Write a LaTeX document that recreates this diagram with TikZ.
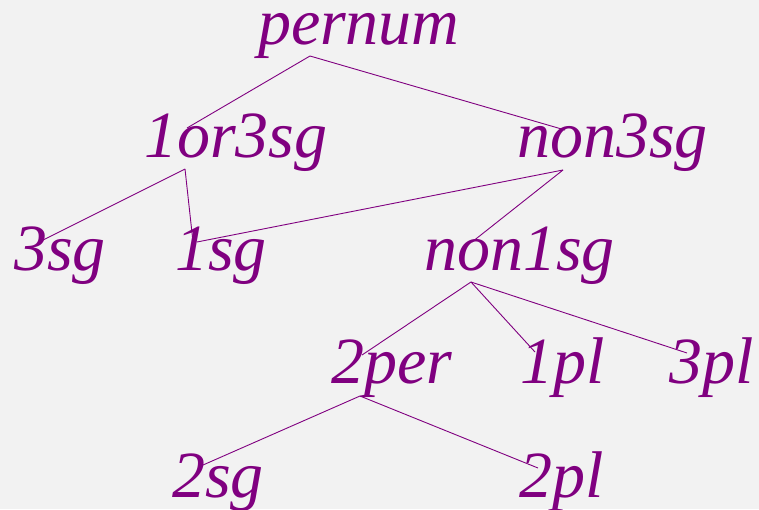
\documentclass[tikz,border=0pt]{standalone}
\usepackage{fontspec}
\setmainfont{Liberation Serif}
\definecolor{pur}{HTML}{800080}
\definecolor{bgc}{HTML}{F2F2F2}
\begin{document}
\begin{tikzpicture}[x=1pt,y=-1pt,
  lab/.style={anchor=base west,inner sep=0pt,outer sep=0pt,text=pur,font=\fontsize{66}{78}\selectfont\itshape},
  edge/.style={draw=pur,line width=0.9pt}]
\fill[bgc] (0,0) rectangle (759,509);
\useasboundingbox (0,0) rectangle (759,509);
\node[lab] (pernum) at (258,44) {pernum};
\node[lab] (a1or3sg) at (144,157) {1or3sg};
\node[lab] (non3sg) at (517,157) {non3sg};
\node[lab] (s3sg) at (14,270) {3sg};
\node[lab] (s1sg) at (175,270) {1sg};
\node[lab] (non1sg) at (424,270) {non1sg};
\node[lab] (per2) at (331,383) {2per};
\node[lab] (pl1) at (520,383) {1pl};
\node[lab] (pl3) at (669,383) {3pl};
\node[lab] (sg2) at (172,497) {2sg};
\node[lab] (pl2) at (519,497) {2pl};
\draw[edge] ([shift={(52pt,-12pt)}]pernum.base west) -- ([shift={(43pt,29pt)}]a1or3sg.base west);
\draw[edge] ([shift={(52pt,-12pt)}]pernum.base west) -- ([shift={(48pt,27pt)}]non3sg.base west);
\draw[edge] ([shift={(41pt,-12pt)}]a1or3sg.base west) -- ([shift={(29pt,30pt)}]s3sg.base west);
\draw[edge] ([shift={(41pt,-12pt)}]a1or3sg.base west) -- ([shift={(18pt,28pt)}]s1sg.base west);
\draw[edge] ([shift={(46pt,-13pt)}]non3sg.base west) -- ([shift={(22pt,28pt)}]s1sg.base west);
\draw[edge] ([shift={(46pt,-13pt)}]non3sg.base west) -- ([shift={(48pt,28pt)}]non1sg.base west);
\draw[edge] ([shift={(47pt,-12pt)}]non1sg.base west) -- ([shift={(31pt,28pt)}]per2.base west);
\draw[edge] ([shift={(47pt,-12pt)}]non1sg.base west) -- ([shift={(15pt,31pt)}]pl1.base west);
\draw[edge] ([shift={(47pt,-12pt)}]non1sg.base west) -- ([shift={(18pt,30pt)}]pl3.base west);
\draw[edge] ([shift={(29pt,-13pt)}]per2.base west) -- ([shift={(31pt,32pt)}]sg2.base west);
\draw[edge] ([shift={(29pt,-13pt)}]per2.base west) -- ([shift={(19pt,29pt)}]pl2.base west);
\end{tikzpicture}
\end{document}
